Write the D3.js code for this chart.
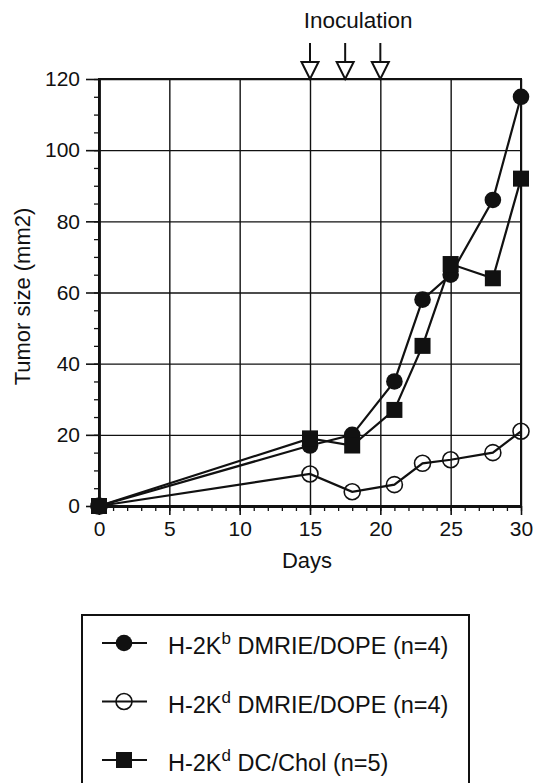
<!DOCTYPE html>
<html>
<head>
<meta charset="utf-8">
<script src="https://cdn.jsdelivr.net/npm/d3@7"></script>
<style>
  html, body { margin: 0; padding: 0; background: #fff; }
  svg { display: block; font-family: "Liberation Sans", Arial, sans-serif; }
</style>
</head>
<body>
<svg id="chart" width="535" height="783"></svg>
<script>
// Datos
const days = [0, 15, 18, 21, 23, 25, 28, 30]
const kbDmrie = [0, 17, 20, 35, 58, 65, 86, 115]
const kdDmrie = [0, 9, 4, 6, 12, 13, 15, 21]
const kdDcChol = [0, 19, 17, 27, 45, 68, 64, 92]
const inoculationDays = [15, 17.5, 20]
const xTicks = [0, 5, 10, 15, 20, 25, 30]
const yTicks = [0, 20, 40, 60, 80, 100, 120]

const seriesNames = ['H-2Kb DMRIE/DOPE (n=4)', 'H-2Kd DMRIE/DOPE (n=4)', 'H-2Kd DC/Chol (n=5)']
const legendParts = [
    ['H-2K', 'b', ' DMRIE/DOPE (n=4)'],
    ['H-2K', 'd', ' DMRIE/DOPE (n=4)'],
    ['H-2K', 'd', ' DC/Chol (n=5)']
]

const series = [
    { name: seriesNames[1], values: kdDmrie, shape: 'open' },
    { name: seriesNames[0], values: kbDmrie, shape: 'circle' },
    { name: seriesNames[2], values: kdDcChol, shape: 'square' }
]

const plotLeft = 99, plotRight = 521, plotTop = 79, plotBottom = 506
const ink = '#111'

const svg = d3.select('#chart')

const x = d3.scaleLinear().domain([0, 30]).range([plotLeft, plotRight])
const y = d3.scaleLinear().domain([0, 120]).range([plotBottom, plotTop])

// Cuadrícula
svg.append('g')
    .attr('transform', `translate(0, ${plotBottom})`)
    .call(d3.axisBottom(x).tickValues(xTicks).tickSize(-(plotBottom - plotTop)).tickFormat(''))
    .call(g => g.select('.domain').remove())
    .call(g => g.selectAll('line').attr('stroke', ink).attr('stroke-width', 1.4))

svg.append('g')
    .attr('transform', `translate(${plotLeft}, 0)`)
    .call(d3.axisLeft(y).tickValues(yTicks).tickSize(-(plotRight - plotLeft)).tickFormat(''))
    .call(g => g.select('.domain').remove())
    .call(g => g.selectAll('line').attr('stroke', ink).attr('stroke-width', 1.4))

// Marco
svg.append('rect')
    .attr('x', plotLeft).attr('y', plotTop)
    .attr('width', plotRight - plotLeft).attr('height', plotBottom - plotTop)
    .attr('fill', 'none').attr('stroke', ink).attr('stroke-width', 2)

// Ejes: marcas menores
svg.append('g')
    .attr('transform', `translate(0, ${plotBottom})`)
    .call(d3.axisBottom(x).ticks(30).tickSize(5).tickFormat('').tickSizeOuter(0))
    .call(g => g.select('.domain').remove())
    .call(g => g.selectAll('line').attr('stroke', ink).attr('stroke-width', 1.3))

svg.append('g')
    .attr('transform', `translate(${plotLeft}, 0)`)
    .call(d3.axisLeft(y).ticks(24).tickSize(5).tickFormat('').tickSizeOuter(0))
    .call(g => g.select('.domain').remove())
    .call(g => g.selectAll('line').attr('stroke', ink).attr('stroke-width', 1.3))

// Ejes: marcas mayores y etiquetas
svg.append('g')
    .attr('transform', `translate(0, ${plotBottom})`)
    .call(d3.axisBottom(x).tickValues(xTicks).tickSize(9).tickSizeOuter(0).tickPadding(6))
    .call(g => g.select('.domain').attr('stroke', ink).attr('stroke-width', 2.8))
    .call(g => g.selectAll('line').attr('stroke', ink).attr('stroke-width', 1.6))
    .call(g => g.selectAll('text').attr('fill', ink).attr('font-size', 21).attr('font-family', 'Liberation Sans, Arial, sans-serif'))

svg.append('g')
    .attr('transform', `translate(${plotLeft}, 0)`)
    .call(d3.axisLeft(y).tickValues(yTicks).tickSize(13).tickSizeOuter(0).tickPadding(6))
    .call(g => g.select('.domain').attr('stroke', ink).attr('stroke-width', 2.8))
    .call(g => g.selectAll('line').attr('stroke', ink).attr('stroke-width', 1.6))
    .call(g => g.selectAll('text').attr('fill', ink).attr('font-size', 21).attr('font-family', 'Liberation Sans, Arial, sans-serif'))

// Títulos de ejes
svg.append('text')
    .attr('x', (plotLeft + plotRight) / 2 - 3)
    .attr('y', 568)
    .attr('text-anchor', 'middle')
    .attr('font-size', 22)
    .attr('fill', ink)
    .text('Days')

svg.append('text')
    .attr('transform', `translate(30, ${(plotTop + plotBottom) / 2 + 4}) rotate(-90)`)
    .attr('text-anchor', 'middle')
    .attr('font-size', 22)
    .attr('fill', ink)
    .text('Tumor size (mm2)')

// Flechas de inoculación
const arrows = svg.append('g')
arrows.selectAll('line')
    .data(inoculationDays)
    .join('line')
    .attr('x1', d => x(d)).attr('x2', d => x(d))
    .attr('y1', 43).attr('y2', 62)
    .attr('stroke', ink).attr('stroke-width', 2)
arrows.selectAll('path')
    .data(inoculationDays)
    .join('path')
    .attr('d', d => `M${x(d) - 8.5},62 L${x(d) + 8.5},62 L${x(d)},${plotTop} Z`)
    .attr('fill', '#fff').attr('stroke', ink).attr('stroke-width', 2)

svg.append('text')
    .attr('x', x(17.5) + 13)
    .attr('y', 28)
    .attr('text-anchor', 'middle')
    .attr('font-size', 22.5)
    .attr('fill', ink)
    .text('Inoculation')

// Series
const line = d3.line().x(d => x(d[0])).y(d => y(d[1]))

// Los círculos abiertos son transparentes: se ve la línea a través
function drawMarker(sel, shape) {
    if (shape === 'square') {
        sel.append('rect')
            .attr('x', -8).attr('y', -8).attr('width', 16).attr('height', 16)
            .attr('fill', ink)
    } else {
        sel.append('circle')
            .attr('r', shape === 'open' ? 8 : 8.3)
            .attr('fill', shape === 'open' ? 'none' : ink)
            .attr('stroke', ink)
            .attr('stroke-width', shape === 'open' ? 1.6 : 0)
    }
}

series.forEach(s => {
    const pts = days.map((d, i) => [d, s.values[i]])
    svg.append('path')
        .datum(pts)
        .attr('d', line)
        .attr('fill', 'none')
        .attr('stroke', ink)
        .attr('stroke-width', 2.2)
    svg.append('g')
        .selectAll('g')
        .data(pts)
        .join('g')
        .attr('transform', d => `translate(${x(d[0])}, ${y(d[1])})`)
        .each(function () { drawMarker(d3.select(this), s.shape) })
})

// Leyenda
const legend = svg.append('g')
legend.append('rect')
    .attr('x', 82).attr('y', 615)
    .attr('width', 469 - 82).attr('height', 200)
    .attr('fill', 'none').attr('stroke', ink).attr('stroke-width', 2)

const legendShapes = ['circle', 'open', 'square']
const legendRows = legend.selectAll('g.row')
    .data(legendParts)
    .join('g')
    .attr('class', 'row')
    .attr('transform', (d, i) => `translate(0, ${643 + i * 58.5})`)

legendRows.append('line')
    .attr('x1', 102).attr('x2', 147)
    .attr('stroke', ink).attr('stroke-width', 2)

legendRows.append('g')
    .attr('transform', 'translate(124, 0)')
    .each(function (d, i) { drawMarker(d3.select(this), legendShapes[i]) })

const legendText = legendRows.append('text')
    .attr('x', 168)
    .attr('y', 11)
    .attr('font-size', 23.5)
    .attr('fill', ink)
legendText.append('tspan').text(d => d[0])
legendText.append('tspan').attr('font-size', 17).attr('dy', -10).text(d => d[1])
legendText.append('tspan').attr('dy', 10).text(d => d[2])
</script>
</body>
</html>
